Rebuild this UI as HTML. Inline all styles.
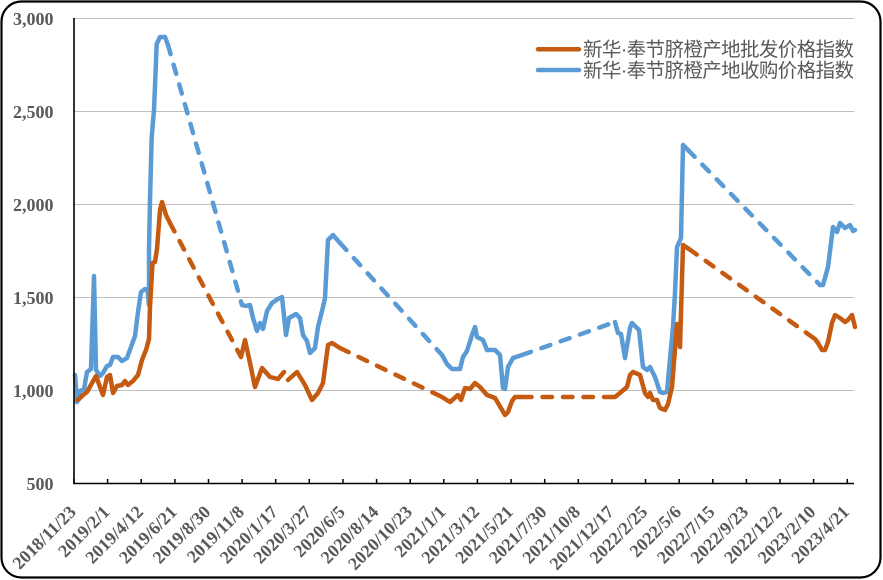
<!DOCTYPE html>
<html>
<head>
<meta charset="utf-8">
<style>
html,body{margin:0;padding:0;background:#fff;}
svg{display:block;}
.ax{font-family:"Liberation Serif",serif;font-weight:bold;font-size:18px;fill:#595959;}
.lg{font-family:"Liberation Sans","Noto Sans CJK SC",sans-serif;font-size:19.5px;fill:#595959;}
.b{fill:none;stroke:#5B9BD5;stroke-width:4.5;stroke-linejoin:round;stroke-linecap:round;}
.o{fill:none;stroke:#C55A11;stroke-width:4.5;stroke-linejoin:round;stroke-linecap:round;}
.d{stroke-dasharray:9.5 11;}
</style>
</head>
<body>
<svg width="883" height="580" viewBox="0 0 883 580" xmlns="http://www.w3.org/2000/svg">
<rect x="0" y="0" width="883" height="580" fill="#fff"/>
<rect x="1.5" y="1.5" width="879" height="576" rx="20" ry="20" fill="#fff" stroke="#000" stroke-width="2.2"/>

<g stroke="#BFBFBF" stroke-width="1">
<line x1="74" y1="18.5" x2="854" y2="18.5"/>
<line x1="74" y1="111.5" x2="854" y2="111.5"/>
<line x1="74" y1="204.5" x2="854" y2="204.5"/>
<line x1="74" y1="297.5" x2="854" y2="297.5"/>
<line x1="74" y1="390.5" x2="854" y2="390.5"/>
</g>

<g class="ax" text-anchor="end">
<text x="53.5" y="25">3,000</text>
<text x="53.5" y="118">2,500</text>
<text x="53.5" y="211">2,000</text>
<text x="53.5" y="304">1,500</text>
<text x="53.5" y="397">1,000</text>
<text x="53.5" y="490">500</text>
</g>

<polyline class="b" points="75,375 77,402 80,391 84,389 87,372 91,369 94,276 96,370 100,376 103,373 107,366 110,365 113,357 118,357 122,361 127,358 131,347 135,336 138,312 141,292 145,289 147.5,290 149,305 149,250 150,200 151.7,137 154,110 156.7,44 160,37 165,37 168,45"/>
<polyline class="b d" points="168,45 242,305"/>
<polyline class="b" points="242,305 246,306 250,305 253,318 257,331 260,323 263,329 267,311 272,303 278,299 282,297 286,335 289,318 296,314 300,318 303,335 307,341 310,353 315,348 318,327 323,307 325,298 328,240 333,235 340,243"/>
<polyline class="b d" points="340,243 442,355"/>
<polyline class="b" points="442,355 447,364 452,369 460,369 463,357 467,351 472,335 475,327 477,337 483,340 487,350 495,350 500,355 503,388 505,389 508,367 513,358 522,355"/>
<polyline class="b d" points="522,355 615,322"/>
<polyline class="b" points="615,322 618,333 621,334 625,358 630,328 632,323 639,330 643,367 647,370 650,367 655,377 660,392 663,393 667,392 669,370 673,327 675,293 677,247 681,238 683,145 688,150"/>
<polyline class="b d" points="688,150 820,285"/>
<polyline class="b" points="820,285 823,285 828,267 833,227 837,232 840,223 845,228 850,225 853,231 855,230"/>

<polyline class="o" points="78,400 80,398 83,395 87,392 92,383 96,376 100,387 103,395 107,377 110,375 113,393 117,386 122,385 125,381 128,385 133,381 138,375 142,360 146,350 149,339 150,307 152.5,263 155,262 157,249 160,210 162,202 166,215 170,223"/>
<polyline class="o d" points="170,223 241,357"/>
<polyline class="o" points="241,357 245,340 250,363 255,387 262,368 270,377 278,379 284,372"/>
<polyline class="o" points="288,380 297,372 305,385 312,400 318,393 323,383 328,345 332,343 340,348"/>
<polyline class="o d" points="340,348 442,397"/>
<polyline class="o" points="442,397 450,402 458,395 461,400 465,388 470,389 475,383 480,387 487,395 495,398 498,403 505,415 508,412 512,401 515,397 522,397"/>
<polyline class="o d" points="522,397 615,397"/>
<polyline class="o" points="615,397 620,393 627,387 630,375 633,372 640,375 645,393 648,397 650,393 653,400 657,400 660,408 665,410 668,404 672,387 677,324 680,347 683,245 689,249"/>
<polyline class="o d" points="689,249 815,339"/>
<polyline class="o" points="815,339 818,343 822,350 825,350 828,342 832,323 835,315 840,318 845,322 848,320 852,315 855,327"/>

<line x1="74" y1="18" x2="74" y2="484" stroke="#000" stroke-width="1.6"/>
<line x1="73.2" y1="483.5" x2="854" y2="483.5" stroke="#000" stroke-width="1.6"/>
<g stroke="#000" stroke-width="1.5">
<line x1="74" y1="479" x2="74" y2="483.5"/>
<line x1="107.6" y1="479" x2="107.6" y2="483.5"/>
<line x1="141.2" y1="479" x2="141.2" y2="483.5"/>
<line x1="174.9" y1="479" x2="174.9" y2="483.5"/>
<line x1="208.5" y1="479" x2="208.5" y2="483.5"/>
<line x1="242.1" y1="479" x2="242.1" y2="483.5"/>
<line x1="275.7" y1="479" x2="275.7" y2="483.5"/>
<line x1="309.3" y1="479" x2="309.3" y2="483.5"/>
<line x1="343" y1="479" x2="343" y2="483.5"/>
<line x1="376.6" y1="479" x2="376.6" y2="483.5"/>
<line x1="410.2" y1="479" x2="410.2" y2="483.5"/>
<line x1="443.8" y1="479" x2="443.8" y2="483.5"/>
<line x1="477.4" y1="479" x2="477.4" y2="483.5"/>
<line x1="511.1" y1="479" x2="511.1" y2="483.5"/>
<line x1="544.7" y1="479" x2="544.7" y2="483.5"/>
<line x1="578.3" y1="479" x2="578.3" y2="483.5"/>
<line x1="611.9" y1="479" x2="611.9" y2="483.5"/>
<line x1="645.5" y1="479" x2="645.5" y2="483.5"/>
<line x1="679.2" y1="479" x2="679.2" y2="483.5"/>
<line x1="712.8" y1="479" x2="712.8" y2="483.5"/>
<line x1="746.4" y1="479" x2="746.4" y2="483.5"/>
<line x1="780" y1="479" x2="780" y2="483.5"/>
<line x1="813.6" y1="479" x2="813.6" y2="483.5"/>
<line x1="847.3" y1="479" x2="847.3" y2="483.5"/>
</g>

<g class="ax" text-anchor="end">
<text transform="translate(77,513) rotate(-45)">2018/11/23</text>
<text transform="translate(110.6,513) rotate(-45)">2019/2/1</text>
<text transform="translate(144.2,513) rotate(-45)">2019/4/12</text>
<text transform="translate(177.9,513) rotate(-45)">2019/6/21</text>
<text transform="translate(211.5,513) rotate(-45)">2019/8/30</text>
<text transform="translate(245.1,513) rotate(-45)">2019/11/8</text>
<text transform="translate(278.7,513) rotate(-45)">2020/1/17</text>
<text transform="translate(312.3,513) rotate(-45)">2020/3/27</text>
<text transform="translate(346,513) rotate(-45)">2020/6/5</text>
<text transform="translate(379.6,513) rotate(-45)">2020/8/14</text>
<text transform="translate(413.2,513) rotate(-45)">2020/10/23</text>
<text transform="translate(446.8,513) rotate(-45)">2021/1/1</text>
<text transform="translate(480.4,513) rotate(-45)">2021/3/12</text>
<text transform="translate(514.1,513) rotate(-45)">2021/5/21</text>
<text transform="translate(547.7,513) rotate(-45)">2021/7/30</text>
<text transform="translate(581.3,513) rotate(-45)">2021/10/8</text>
<text transform="translate(614.9,513) rotate(-45)">2021/12/17</text>
<text transform="translate(648.5,513) rotate(-45)">2022/2/25</text>
<text transform="translate(682.2,513) rotate(-45)">2022/5/6</text>
<text transform="translate(715.8,513) rotate(-45)">2022/7/15</text>
<text transform="translate(749.4,513) rotate(-45)">2022/9/23</text>
<text transform="translate(783,513) rotate(-45)">2022/12/2</text>
<text transform="translate(816.6,513) rotate(-45)">2023/2/10</text>
<text transform="translate(850.3,513) rotate(-45)">2023/4/21</text>
</g>

<line x1="538" y1="49.3" x2="579" y2="49.3" stroke="#C55A11" stroke-width="4.5" stroke-linecap="round"/>
<line x1="538" y1="70" x2="579" y2="70" stroke="#5B9BD5" stroke-width="4.5" stroke-linecap="round"/>
<text class="lg" x="583" y="56" textLength="271" lengthAdjust="spacing">新华·奉节脐橙产地批发价格指数</text>
<text class="lg" x="583" y="77" textLength="271" lengthAdjust="spacing">新华·奉节脐橙产地收购价格指数</text>
</svg>
</body>
</html>
